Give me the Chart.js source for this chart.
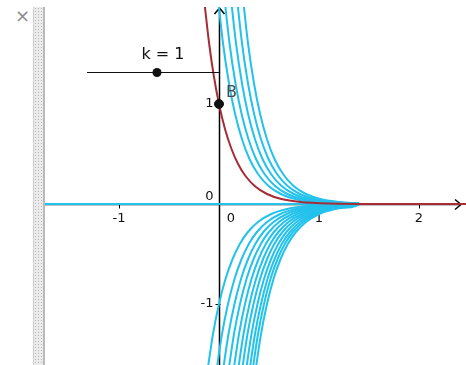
<!DOCTYPE html>
<html>
<head>
<meta charset="utf-8">
<script src="https://cdn.jsdelivr.net/npm/chart.js@4.4.0/dist/chart.umd.min.js"></script>
<style>
  html, body { margin: 0; padding: 0; background: #fff; }
  body { width: 466px; height: 365px; position: relative; overflow: hidden; font-family: "DejaVu Sans", sans-serif; }
  #close { position: absolute; left: 15px; top: 5px; color: #8c8c8c; font-size: 18px; line-height: 22px; }
  #bar {
    position: absolute; left: 33px; top: 7px; width: 9px; height: 358px;
    background-color: #ececec;
    background-image: radial-gradient(#b4b4b4 0.7px, transparent 0.9px);
    background-size: 3px 3px;
    border-left: 1px solid #cfcfcf; border-right: 2px solid #b9b9b9;
  }
  #wrap { position: absolute; left: 45px; top: 7px; width: 421px; height: 358px; }
</style>
</head>
<body>
<div id="close">×</div>
<div id="bar"></div>
<div id="wrap"><canvas id="myChart" width="421" height="358"></canvas></div>
<script>
// visible window of the graphics view
var xMin = -1.74, xMax = 2.47, yMin = -1.61, yMax = 1.97;

var xTicks = [-1, 0, 1, 2];
var xTickLabels = ['-1', '0', '1', '2'];
var yTicks = [-1, 0, 1];
var yTickLabels = ['-1', '0', '1'];

// red curve through B
var redX = [-0.155, -0.098, -0.055, 0, 0.060, 0.125, 0.191, 0.265, 0.357, 0.480, 0.624, 0.815, 1.104, 1.6, 2.47];
var redY = [2.1, 1.6, 1.3, 1.0, 0.75, 0.55, 0.4, 0.28, 0.18, 0.1, 0.05, 0.02, 0.005, 0.0005, 0];

// cyan curves above the axis (same y levels, x read per curve)
var upperY = [2.1, 1.6, 1.2, 0.9, 0.65, 0.45, 0.3, 0.18, 0.1, 0.05, 0.02, 0.004];
var upperX = [
    [-0.015, 0.041, 0.101, 0.161, 0.229, 0.305, 0.390, 0.496, 0.619, 0.763, 0.954, 1.4],
    [0.050, 0.106, 0.166, 0.226, 0.294, 0.370, 0.455, 0.561, 0.684, 0.828, 1.019, 1.4],
    [0.115, 0.171, 0.231, 0.291, 0.359, 0.435, 0.520, 0.626, 0.749, 0.893, 1.084, 1.4],
    [0.175, 0.231, 0.291, 0.351, 0.419, 0.495, 0.580, 0.686, 0.809, 0.953, 1.144, 1.4],
    [0.235, 0.291, 0.351, 0.411, 0.479, 0.555, 0.640, 0.746, 0.869, 1.013, 1.204, 1.4]
];

// cyan curves below the axis
var lowerY = [-1.75, -1.3, -1.0, -0.75, -0.55, -0.4, -0.28, -0.18, -0.1, -0.05, -0.02, -0.004];
var lowerX = [
    [-0.127, -0.060, 0.000, 0.065, 0.136, 0.208, 0.289, 0.390, 0.523, 0.681, 0.889, 1.4],
    [-0.037, 0.030, 0.090, 0.155, 0.226, 0.298, 0.379, 0.480, 0.613, 0.771, 0.979, 1.4],
    [0.028, 0.095, 0.155, 0.220, 0.291, 0.363, 0.444, 0.545, 0.678, 0.836, 1.044, 1.4],
    [0.083, 0.150, 0.210, 0.275, 0.346, 0.418, 0.499, 0.600, 0.733, 0.891, 1.099, 1.4],
    [0.133, 0.200, 0.260, 0.325, 0.396, 0.468, 0.549, 0.650, 0.783, 0.941, 1.149, 1.4],
    [0.178, 0.245, 0.305, 0.370, 0.441, 0.513, 0.594, 0.695, 0.828, 0.986, 1.194, 1.4],
    [0.218, 0.285, 0.345, 0.410, 0.481, 0.553, 0.634, 0.735, 0.868, 1.026, 1.234, 1.4],
    [0.258, 0.325, 0.385, 0.450, 0.521, 0.593, 0.674, 0.775, 0.908, 1.066, 1.274, 1.4],
    [0.293, 0.360, 0.420, 0.485, 0.556, 0.628, 0.709, 0.810, 0.943, 1.101, 1.309, 1.4],
    [0.323, 0.390, 0.450, 0.515, 0.586, 0.658, 0.739, 0.840, 0.973, 1.131, 1.339, 1.4],
    [0.353, 0.420, 0.480, 0.545, 0.616, 0.688, 0.769, 0.870, 1.003, 1.161, 1.369, 1.4]
];

// the y = 0 member of the family
var zeroX = [-1.74, 1.4];
var zeroY = [0, 0];

// point B and slider k
var bX = [0];
var bY = [1];
var sliderName = 'k';
var sliderValue = 1;
var sliderLineX = [-1.32, 0];
var sliderLineY = 1.32;
var sliderDotX = -0.62;

var cyan = '#23c2ec';
var red = '#a62c36';

function toPoints(xs, ys) {
    var pts = [];
    for (var i = 0; i < xs.length; i++) {
        pts.push({ x: xs[i], y: ys[i] });
    }
    return pts;
}

function curve(xs, ys, color) {
    return {
        data: toPoints(xs, ys),
        borderColor: color,
        borderWidth: 2,
        pointRadius: 0,
        fill: false,
        cubicInterpolationMode: 'monotone'
    };
}

var datasets = [];
datasets.push({
    data: toPoints(bX, bY),
    showLine: false,
    pointRadius: 4.5,
    pointBackgroundColor: '#111',
    pointBorderColor: '#111'
});
datasets.push(curve(redX, redY, red));
for (var i = 0; i < upperX.length; i++) {
    datasets.push(curve(upperX[i], upperY, cyan));
}
for (var i = 0; i < lowerX.length; i++) {
    datasets.push(curve(lowerX[i], lowerY, cyan));
}
datasets.push(curve(zeroX, zeroY, cyan));

var axesPlugin = {
    id: 'ggbAxes',
    beforeDatasetsDraw: function (chart) {
        var ctx = chart.ctx;
        var xs = chart.scales.x, ys = chart.scales.y, area = chart.chartArea;
        var ox = Math.round(xs.getPixelForValue(0)) + 0.5;
        var oy = Math.round(ys.getPixelForValue(0)) + 0.5;
        ctx.save();
        ctx.strokeStyle = '#000';
        ctx.lineWidth = 1.5;
        ctx.beginPath();
        ctx.moveTo(area.left, oy);
        ctx.lineTo(area.right - 5, oy);
        ctx.moveTo(ox, area.bottom);
        ctx.lineTo(ox, area.top + 1);
        // arrow heads
        ctx.moveTo(area.right - 11, oy - 5);
        ctx.lineTo(area.right - 5, oy);
        ctx.lineTo(area.right - 11, oy + 5);
        ctx.moveTo(ox - 5, area.top + 7);
        ctx.lineTo(ox, area.top + 1);
        ctx.lineTo(ox + 5, area.top + 7);
        ctx.stroke();

        ctx.lineWidth = 1;
        ctx.beginPath();
        for (var i = 0; i < xTicks.length; i++) {
            if (xTicks[i] === 0) continue;
            var px = Math.round(xs.getPixelForValue(xTicks[i])) + 0.5;
            ctx.moveTo(px, oy - 1);
            ctx.lineTo(px, oy + 4);
        }
        for (var i = 0; i < yTicks.length; i++) {
            if (yTicks[i] === 0) continue;
            var py = Math.round(ys.getPixelForValue(yTicks[i])) + 0.5;
            ctx.moveTo(ox - 4, py);
            ctx.lineTo(ox + 1, py);
        }
        ctx.stroke();

        ctx.fillStyle = '#111';
        ctx.font = '13px "DejaVu Sans", sans-serif';
        ctx.textBaseline = 'alphabetic';
        for (var i = 0; i < xTicks.length; i++) {
            var px = xs.getPixelForValue(xTicks[i]);
            ctx.textAlign = 'center';
            if (xTicks[i] === 0) {
                ctx.fillText(xTickLabels[i], px + 12, oy + 17);
            } else {
                ctx.fillText(xTickLabels[i], px, oy + 17);
            }
        }
        ctx.textAlign = 'right';
        ctx.textBaseline = 'middle';
        for (var i = 0; i < yTicks.length; i++) {
            var py = ys.getPixelForValue(yTicks[i]);
            if (yTicks[i] === 0) {
                ctx.fillText(yTickLabels[i], ox - 6, oy - 8);
            } else {
                ctx.fillText(yTickLabels[i], ox - 6, py);
            }
        }
        ctx.restore();
    },
    afterDatasetsDraw: function (chart) {
        var ctx = chart.ctx;
        var xs = chart.scales.x, ys = chart.scales.y;
        ctx.save();
        // slider
        var sy = Math.round(ys.getPixelForValue(sliderLineY)) + 0.5;
        ctx.strokeStyle = '#111';
        ctx.lineWidth = 1;
        ctx.beginPath();
        ctx.moveTo(xs.getPixelForValue(sliderLineX[0]), sy);
        ctx.lineTo(xs.getPixelForValue(sliderLineX[1]), sy);
        ctx.stroke();
        var dx = xs.getPixelForValue(sliderDotX);
        ctx.fillStyle = '#111';
        ctx.beginPath();
        ctx.arc(dx, sy, 4.5, 0, Math.PI * 2);
        ctx.fill();
        ctx.font = '16px "DejaVu Sans", sans-serif';
        ctx.textAlign = 'center';
        ctx.textBaseline = 'alphabetic';
        ctx.fillText(sliderName + ' = ' + sliderValue, dx + 6, sy - 14);
        // label of B
        var bx = xs.getPixelForValue(bX[0]), by = ys.getPixelForValue(bY[0]);
        ctx.fillStyle = '#4a4a4a';
        ctx.textAlign = 'left';
        ctx.fillText('B', bx + 7, by - 7);
        ctx.restore();
    }
};

var ctx = document.getElementById('myChart').getContext('2d');
var myChart = new Chart(ctx, {
    type: 'line',
    data: { datasets: datasets },
    options: {
        responsive: false,
        animation: false,
        events: [],
        layout: { padding: 0, autoPadding: false },
        plugins: { legend: { display: false }, tooltip: { enabled: false } },
        scales: {
            x: { type: 'linear', min: xMin, max: xMax, display: false },
            y: { type: 'linear', min: yMin, max: yMax, display: false }
        }
    },
    plugins: [axesPlugin]
});
</script>
</body>
</html>
